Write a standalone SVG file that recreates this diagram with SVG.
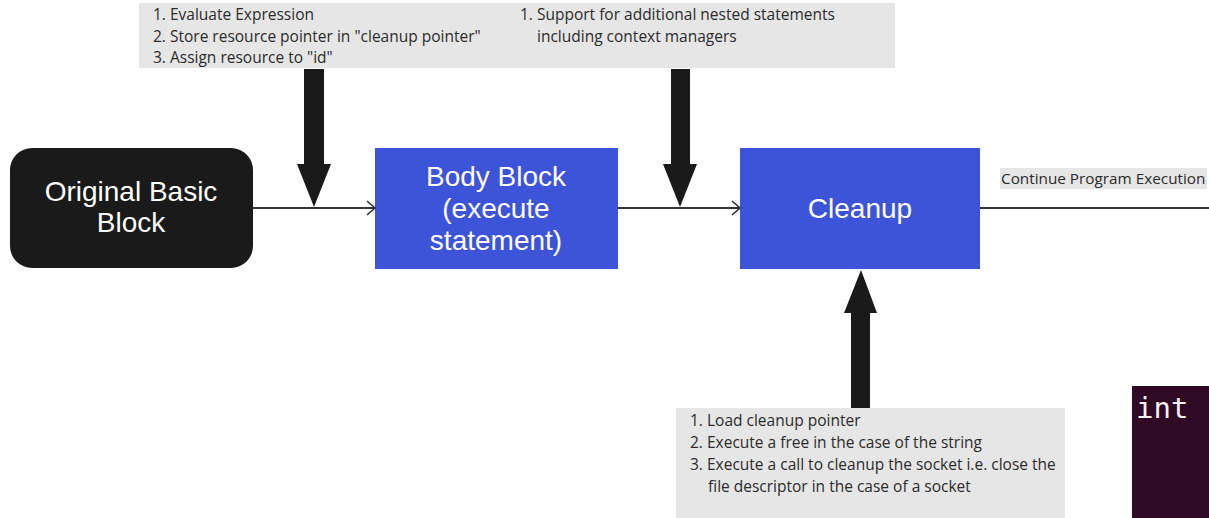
<svg xmlns="http://www.w3.org/2000/svg" width="1209" height="518" viewBox="0 0 1209 518">
<style>
.note{fill:#e6e6e6}
.nt{font-family:"Open Sans","Liberation Sans",sans-serif;font-size:15.5px;fill:#2b2b2b}
.bt{font-family:"Liberation Sans",Arial,sans-serif;font-size:28px;fill:#fff;text-anchor:middle}
.blue{fill:#3d53d8}
.line{stroke:#333;stroke-width:2;fill:none}
.big{fill:#1a1a1a}
</style>
<defs>
<marker id="chev" markerWidth="12" markerHeight="16" refX="11" refY="8" orient="auto" markerUnits="userSpaceOnUse">
<path d="M3,1 L11,8 L3,15" fill="none" stroke="#333" stroke-width="1.6"/>
</marker>
</defs>
<g id="note-top-left">
<rect class="note" x="139" y="3" width="366" height="65"/>
<text class="nt" x="153" y="20">1. Evaluate Expression</text>
<text class="nt" x="153" y="42">2. Store resource pointer in "cleanup pointer"</text>
<text class="nt" x="153" y="63">3. Assign resource to "id"</text>
</g>
<g id="note-top-right">
<rect class="note" x="505" y="3" width="390" height="65"/>
<text class="nt" x="520" y="20">1. Support for additional nested statements</text>
<text class="nt" x="537" y="42">including context managers</text>
</g>
<g id="node-original">
<rect x="10" y="148" width="243" height="120" rx="22" fill="#1a1a1a"/>
<text class="bt" x="131" y="201">Original Basic</text>
<text class="bt" x="131" y="232">Block</text>
</g>
<g id="node-body">
<rect class="blue" x="375" y="148" width="243" height="121"/>
<text class="bt" x="496" y="186">Body Block</text>
<text class="bt" x="496" y="218">(execute</text>
<text class="bt" x="496" y="250">statement)</text>
</g>
<g id="node-cleanup">
<rect class="blue" x="740" y="148" width="240" height="121"/>
<text class="bt" x="860" y="218">Cleanup</text>
</g>
<g id="note-bottom">
<rect class="note" x="676" y="408" width="389" height="110"/>
<text class="nt" x="690" y="426">1. Load cleanup pointer</text>
<text class="nt" x="690" y="448">2. Execute a free in the case of the string</text>
<text class="nt" x="690" y="470">3. Execute a call to cleanup the socket i.e. close the</text>
<text class="nt" x="708" y="492">file descriptor in the case of a socket</text>
</g>
<g id="terminal">
<rect x="1132" y="386" width="77" height="132" fill="#300a24"/>
<text x="1136" y="418" font-family="'DejaVu Sans Mono',monospace" font-size="29" fill="#f2f2f2">int</text>
</g>
<g id="connectors">
<path class="line" d="M253,208 L375,208" marker-end="url(#chev)"/>
<path class="line" d="M618,208 L740,208" marker-end="url(#chev)"/>
<path class="line" d="M980,208 L1209,208"/>
<g id="label-continue">
<rect class="note" x="1000" y="168" width="207" height="21"/>
<text class="nt" x="1001" y="184" style="font-size:15.3px">Continue Program Execution</text>
</g>
<path class="big" d="M304,69 L324,69 L324,164 L331,164 L314,207 L297,164 L304,164 Z"/>
<path class="big" d="M671,69 L690,69 L690,164 L697,164 L680,207 L663,164 L671,164 Z"/>
<path class="big" d="M851,408 L870,408 L870,313 L877,313 L861,270 L844,313 L851,313 Z"/>
</g>
</svg>
